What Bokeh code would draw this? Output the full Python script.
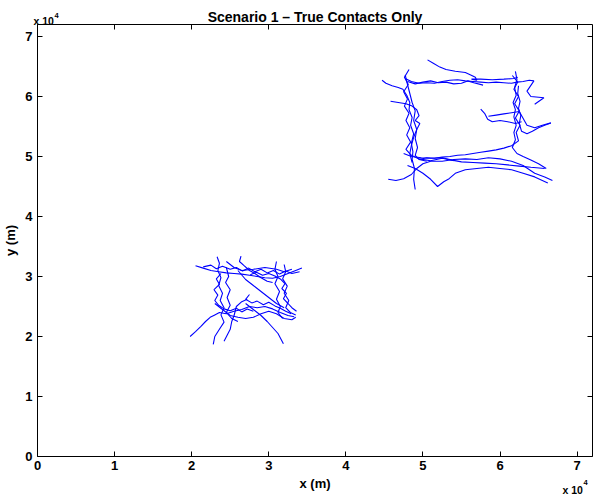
from bokeh.plotting import figure
from bokeh.models import Range1d, LinearAxis, FixedTicker, Label
from bokeh.embed import file_html
from bokeh.resources import INLINE

# ---- data (metres) ----
tick_values = [0, 10000, 20000, 30000, 40000, 50000, 60000, 70000]
tick_labels = ["0", "1", "2", "3", "4", "5", "6", "7"]
axis_max = 72000

# large square tracks
b1_x = [44700, 45200, 46000, 46800, 47400, 47900, 48300, 48200, 48600, 48400, 48800, 48500, 48700, 48600, 48900, 48800, 49000]
b1_y = [62700, 62200, 61800, 61500, 61200, 60200, 59000, 57800, 56500, 55200, 53800, 52200, 50800, 49500, 48000, 46200, 44500]
b2_x = [50600, 51400, 52200, 53000, 54200, 55500, 56200, 56800, 57000, 56300, 57500, 59000, 60500, 61800, 62300]
b2_y = [66100, 65500, 64900, 64500, 64200, 64000, 63600, 63200, 62700, 62900, 62900, 62800, 62900, 63000, 63200]
b3_x = [47700, 48500, 49500, 50500, 51500, 52500, 53500, 54500, 55500, 56500, 57500, 58500, 59500, 60500, 61500, 62200, 63000, 63800, 64400, 63500, 64000, 65700, 64500]
b3_y = [63000, 62500, 62200, 62300, 62200, 62500, 62700, 62800, 62600, 62500, 62400, 62300, 62400, 62300, 62200, 62400, 62500, 62700, 62600, 60900, 60000, 59800, 58700]
b4_x = [62000, 62200, 61900, 62100, 61700, 62000, 61800, 62100, 61800, 62000, 61600, 62200, 63000, 64000, 65000, 66000]
b4_y = [64200, 62800, 61500, 60200, 59000, 57800, 56600, 55200, 54000, 52800, 51500, 50500, 50000, 49400, 48800, 48000]
b5_x = [45500, 46500, 47500, 48500, 49200, 50000, 51000, 52500, 54000, 55500, 57000, 58500, 60000, 61500, 63000, 64500, 65800, 66800]
b5_y = [46200, 46000, 46300, 47000, 48000, 48800, 49200, 49200, 49500, 49600, 49500, 49800, 49600, 49200, 48500, 47200, 46600, 46000]
b6_x = [47500, 48500, 49800, 51000, 52500, 53800, 55000, 56500, 58000, 59500, 61000, 62500, 64000, 65800]
b6_y = [50500, 50000, 49800, 49700, 49800, 49400, 49100, 49000, 48900, 48800, 48600, 48400, 48200, 48000]
b7_x = [48000, 49000, 50000, 51000, 51900, 52700, 53400, 54200, 55500, 57000, 58500, 60000, 61500, 63000, 64500, 66200]
b7_y = [48500, 48000, 47200, 46200, 45000, 45800, 46300, 47200, 47800, 48000, 48200, 48000, 47800, 47200, 46600, 45600]
b8_x = [57500, 58000, 58400, 59000, 60000, 61000, 62000, 62800]
b8_y = [57900, 57200, 56200, 55800, 56000, 55800, 55500, 55800]
b9_x = [58500, 59500, 60500, 61500, 62500, 63500, 64500, 65500, 66600]
b9_y = [56700, 56900, 57100, 57300, 57500, 55200, 54800, 55200, 55600]
b10_x = [62400, 62300, 62600, 62400, 62700, 62500, 62800, 63500, 64200, 65000, 65800, 66600]
b10_y = [61800, 60500, 59200, 58000, 56800, 55500, 54200, 53800, 54200, 54800, 55200, 55600]
b11_x = [47700, 48000, 48300, 48600, 49000, 48800, 49200, 49000, 49300, 49000, 49500, 50500]
b11_y = [63600, 62000, 60500, 59000, 57600, 56000, 54500, 53000, 51500, 50200, 49500, 49200]
b12_x = [45800, 46800, 47800, 48600, 49200, 49500, 49000, 49600, 49200, 48800, 48500, 48300, 48600]
b12_y = [59200, 59000, 58800, 58400, 57800, 56800, 56000, 55500, 54500, 53200, 51800, 50500, 49000]
b13_x = [48000, 49000, 50000, 51000, 52000, 53000, 54000, 55000, 55800, 56600, 57800]
b13_y = [62500, 62100, 62400, 62600, 62300, 62400, 62100, 62200, 62600, 62300, 61900]
b14_x = [48200, 47600, 48100, 47500, 48000, 47600, 48200, 47800, 48300, 47900, 48400, 47800, 48500, 49500, 51000, 52500, 54000]
b14_y = [64500, 63200, 62000, 60800, 59600, 58400, 57200, 56000, 54800, 53600, 52400, 51200, 50200, 49600, 49300, 49700, 49300]
b15_x = [61600, 62300, 61800, 62400, 61900, 62500, 62000, 62600, 62100, 62400, 61500, 60500, 59500, 58500, 57500, 56500, 55500, 54500, 53500, 52500, 51500, 50500, 49500]
b15_y = [63500, 62400, 61200, 60000, 58800, 57600, 56400, 55200, 54000, 52600, 51800, 51400, 51100, 50900, 50700, 50500, 50300, 50200, 50000, 49900, 49700, 49800, 49500]

# small square tracks
s1_x = [19800, 20500, 21200, 21800, 22400, 23000, 23600, 24500, 25500, 26500, 27500, 28500, 29500, 30500, 31500, 32500, 33300]
s1_y = [20000, 20800, 21700, 22500, 23200, 23600, 24000, 23800, 24200, 24500, 25000, 24800, 25000, 24600, 24000, 23500, 23300]
s2_x = [20500, 21500, 22500, 23500, 24500, 25500, 26500, 27500, 28500, 29500, 30500, 31500, 32500, 33500, 34300]
s2_y = [31800, 31400, 31000, 30800, 30600, 30500, 30400, 30200, 30000, 29800, 29700, 30000, 30500, 31000, 31400]
s3_x = [23300, 23600, 23400, 23800, 23500, 24000, 23700, 24200, 23800, 24200, 23600, 23000, 22800]
s3_y = [33300, 32200, 31000, 29800, 28500, 27200, 26000, 24800, 23600, 22400, 21200, 20000, 18700]
s4_x = [32000, 32200, 31800, 32400, 32000, 32600, 32200, 32800, 33500]
s4_y = [32000, 30800, 29600, 28400, 27200, 26000, 24800, 24000, 23600]
s5_x = [27000, 28000, 29000, 29800, 30500, 31200, 31900]
s5_y = [25500, 24500, 23500, 22500, 21500, 20500, 18800]
s6_x = [26400, 26200, 26800, 27500, 28200, 29000, 29800, 30500]
s6_y = [33400, 32500, 31800, 31000, 30500, 29800, 29200, 29000]
s7_x = [24500, 25500, 26500, 28000, 29500, 31000, 32000, 33000]
s7_y = [32500, 31500, 31000, 31200, 31500, 31200, 30800, 31200]
s8_x = [23000, 24000, 25000, 26000, 27000, 28000, 29000, 30000, 31000, 32000, 33000, 33500]
s8_y = [25500, 24500, 23500, 23200, 23000, 23200, 23800, 24200, 23800, 23000, 22800, 23200]
s9_x = [24200, 24600, 25000, 25200, 25500, 25800, 26500, 27200]
s9_y = [19200, 20200, 21200, 22500, 23500, 25000, 25800, 26200]
s10_x = [26000, 27000, 28000, 29000, 30000, 31000, 32000]
s10_y = [31000, 29500, 28500, 27500, 26500, 25500, 24800]
s11_x = [24500, 24800, 24400, 25000, 24600, 25000, 24500, 25200, 26000]
s11_y = [31500, 30000, 29000, 27800, 26500, 25200, 24000, 23000, 22500]
s12_x = [31000, 30800, 31200, 30800, 31400, 31000, 31500, 31200, 31800]
s12_y = [32500, 31200, 30000, 28800, 27500, 26200, 25000, 24000, 23000]
s13_x = [21500, 22500, 23200, 24000, 25000, 25800, 26600, 27400, 28200, 29000, 29800, 30600, 31400, 32200, 33000, 34000]
s13_y = [31600, 31900, 31300, 31700, 31200, 31500, 30900, 31400, 30800, 31200, 30600, 31000, 30400, 30900, 30500, 30800]
s14_x = [23800, 23200, 23600, 22900, 23400, 23000, 23500, 24200, 25000, 25800, 26500, 27200, 28000]
s14_y = [30500, 29600, 28700, 27800, 26900, 26000, 25200, 24600, 24300, 24700, 24100, 24600, 24200]
s15_x = [33600, 33000, 32500, 31900, 32300, 31700, 32100, 31500, 30800, 30000, 29200, 28400, 27600]
s15_y = [24200, 24800, 25500, 26300, 27200, 28000, 28800, 29600, 30100, 30500, 30200, 30700, 30300]
s16_x = [27500, 27000, 27800, 28500, 29300, 30000, 30800, 31500, 32200, 32900]
s16_y = [27000, 26200, 25600, 25900, 25300, 25700, 25100, 24700, 24200, 23800]

tracks = [
    (b1_x, b1_y), (b2_x, b2_y), (b3_x, b3_y), (b4_x, b4_y), (b5_x, b5_y),
    (b6_x, b6_y), (b7_x, b7_y), (b8_x, b8_y), (b9_x, b9_y), (b10_x, b10_y),
    (b11_x, b11_y), (b12_x, b12_y), (b13_x, b13_y), (b14_x, b14_y), (b15_x, b15_y),
    (s1_x, s1_y), (s2_x, s2_y), (s3_x, s3_y), (s4_x, s4_y), (s5_x, s5_y),
    (s6_x, s6_y), (s7_x, s7_y), (s8_x, s8_y), (s9_x, s9_y), (s10_x, s10_y),
    (s11_x, s11_y), (s12_x, s12_y), (s13_x, s13_y), (s14_x, s14_y), (s15_x, s15_y),
    (s16_x, s16_y),
]

FONT = "Liberation Sans"

# ---- layout: the frame fills the canvas, axes are placed at fixed locations ----
W, H = 593, 494
box_left, box_right = 37, 592     # px inside canvas
box_top, box_bottom = 24, 456
sx = axis_max / (box_right - box_left)
sy = axis_max / (box_bottom - box_top)
x_range = Range1d(-box_left * sx, axis_max + (W - box_right) * sx)
y_range = Range1d(-(H - box_bottom) * sy, axis_max + box_top * sy)

p = figure(width=W, height=H, output_backend="svg", toolbar_location=None,
           title=None, x_range=x_range, y_range=y_range,
           min_border=0, min_border_left=0, min_border_right=0,
           min_border_top=0, min_border_bottom=0, x_axis_type=None, y_axis_type=None)
p.background_fill_color = "white"
p.border_fill_color = "white"
p.outline_line_color = None
p.grid.visible = False

for tx, ty in tracks:
    p.line(tx, ty, line_color="#0000ff", line_width=1.1)

overrides = {v: l for v, l in zip(tick_values, tick_labels)}


def make_axis(loc, labels=True):
    ax = LinearAxis(fixed_location=loc, bounds=(0, axis_max))
    ax.ticker = FixedTicker(ticks=tick_values)
    ax.major_tick_in = 5
    ax.major_tick_out = 0
    ax.minor_tick_in = 0
    ax.minor_tick_out = 0
    ax.axis_line_color = "black"
    ax.major_tick_line_color = "black"
    if labels:
        ax.major_label_overrides = overrides
        ax.major_label_text_font = FONT
        ax.major_label_text_font_style = "bold"
        ax.major_label_text_font_size = "13px"
        ax.major_label_text_color = "black"
        ax.axis_label_text_font = FONT
        ax.axis_label_text_font_style = "bold"
        ax.axis_label_text_font_size = "13px"
        ax.axis_label_text_color = "black"
    else:
        ax.major_label_overrides = {v: "" for v in tick_values}
        ax.major_label_text_font_size = "0px"
        ax.major_label_standoff = 0
    return ax


xa = make_axis(0)
xa.axis_label = "x (m)"
xa.major_label_standoff = 4
xa.axis_label_standoff = 3
p.add_layout(xa, "below")

ya = make_axis(0)
ya.axis_label = "y (m)"
ya.major_label_standoff = 5
ya.axis_label_standoff = 4
p.add_layout(ya, "left")

p.add_layout(make_axis(axis_max, labels=False), "above")
p.add_layout(make_axis(axis_max, labels=False), "right")


def lab(x, y, text, xo, yo, size, align="left"):
    p.add_layout(Label(x=x, y=y, x_offset=xo, y_offset=yo, text=text,
                       text_align=align, text_baseline="alphabetic",
                       text_font=FONT, text_font_style="bold",
                       text_font_size=size, text_color="black"))


lab(axis_max / 2, axis_max, "Scenario 1 \u2013 True Contacts Only", 0, 8, "14px", "center")
lab(0, axis_max, "x 10", -4, 4, "10.5px")
lab(0, axis_max, "4", 17, 9, "7.5px")
lab(axis_max, 0, "x 10", -30, -33, "10.5px")
lab(axis_max, 0, "4", -9, -26, "7.5px")

open("out.html", "w").write(file_html(p, INLINE))
